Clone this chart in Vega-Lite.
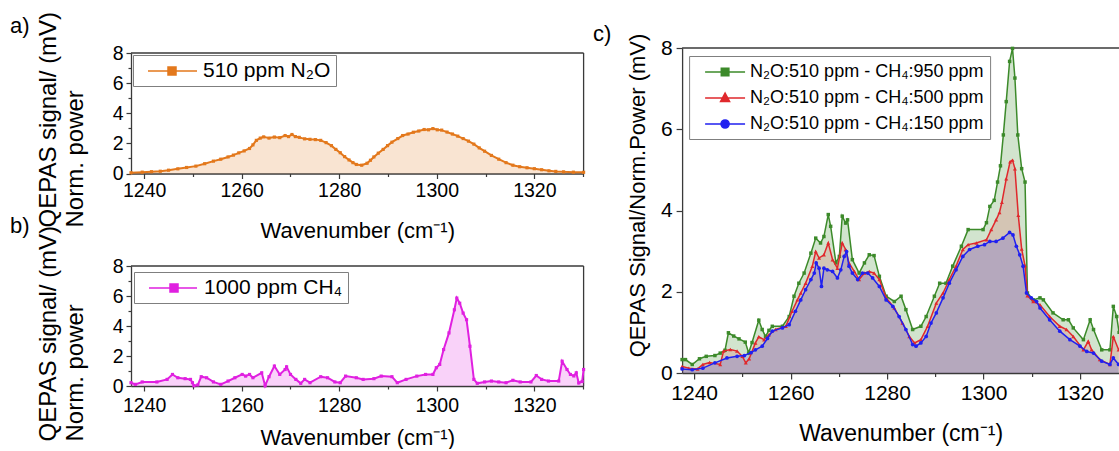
{
 "$schema": "https://vega.github.io/schema/vega-lite/v6.json",
 "background": "white",
 "padding": {"left": 10, "top": 11, "right": 0, "bottom": 0},
 "config": {
  "font": "Liberation Sans",
  "view": {"stroke": "#3a3a3a", "strokeWidth": 1.3},
  "axis": {"grid": false, "domainColor": "#3a3a3a", "domainWidth": 1.3, "tickColor": "#3a3a3a", "tickWidth": 1.2, "tickSize": 5, "labelColor": "black", "titleColor": "black", "labelFont": "Liberation Sans", "titleFont": "Liberation Sans", "titleFontWeight": "normal", "labelFontSize": 19.5, "titleFontSize": 22, "labelPadding": 3, "labelOverlap": false, "labelFlush": false},
  "title": {"font": "Liberation Sans", "fontSize": 22, "fontWeight": "normal", "color": "black", "anchor": "start", "frame": "group", "subtitleFont": "Liberation Sans", "subtitleFontSize": 22, "subtitleColor": "black", "subtitleFontWeight": "normal"}
 },
 "datasets": {
  "a": [
   {"w":1237.3,"s":0.05},{"w":1239.6,"s":0.09},{"w":1241.5,"s":0.12},{"w":1243.3,"s":0.15},{"w":1245,"s":0.22},{"w":1246.9,"s":0.31},{"w":1248.7,"s":0.4},{"w":1250.6,"s":0.49},{"w":1252.4,"s":0.65},{"w":1254.2,"s":0.82},{"w":1255.7,"s":0.95},{"w":1257.2,"s":1.1},{"w":1258.3,"s":1.22},{"w":1259.4,"s":1.37},{"w":1260.5,"s":1.5},{"w":1261.6,"s":1.66},{"w":1262.3,"s":1.9},{"w":1263,"s":2.2},{"w":1263.8,"s":2.35},{"w":1264.5,"s":2.43},{"w":1265.6,"s":2.35},{"w":1266.7,"s":2.42},{"w":1267.8,"s":2.38},{"w":1268.9,"s":2.52},{"w":1269.6,"s":2.45},{"w":1270.3,"s":2.59},{"w":1271,"s":2.45},{"w":1271.8,"s":2.4},{"w":1272.9,"s":2.3},{"w":1274,"s":2.27},{"w":1275.1,"s":2.25},{"w":1276.2,"s":2.2},{"w":1277.3,"s":2.05},{"w":1278.4,"s":1.85},{"w":1279.3,"s":1.6},{"w":1280.2,"s":1.38},{"w":1281.1,"s":1.12},{"w":1282,"s":0.9},{"w":1282.8,"s":0.72},{"w":1283.5,"s":0.6},{"w":1284.6,"s":0.55},{"w":1285.7,"s":0.68},{"w":1286.4,"s":0.88},{"w":1287.1,"s":1.1},{"w":1288,"s":1.35},{"w":1289,"s":1.6},{"w":1289.9,"s":1.85},{"w":1290.8,"s":2.08},{"w":1292,"s":2.32},{"w":1293,"s":2.52},{"w":1294.1,"s":2.62},{"w":1295.2,"s":2.74},{"w":1296.3,"s":2.82},{"w":1297.4,"s":2.92},{"w":1298.3,"s":2.9},{"w":1299.2,"s":2.98},{"w":1300.1,"s":2.9},{"w":1301,"s":2.88},{"w":1302.1,"s":2.75},{"w":1303.2,"s":2.62},{"w":1304.3,"s":2.48},{"w":1305.4,"s":2.32},{"w":1306.5,"s":2.15},{"w":1307.6,"s":1.95},{"w":1308.7,"s":1.7},{"w":1309.8,"s":1.48},{"w":1311.2,"s":1.2},{"w":1312.7,"s":0.95},{"w":1314.2,"s":0.72},{"w":1315.6,"s":0.55},{"w":1317,"s":0.45},{"w":1318.5,"s":0.38},{"w":1320,"s":0.32},{"w":1321.5,"s":0.25},{"w":1323,"s":0.18},{"w":1324.4,"s":0.14},{"w":1326,"s":0.11},{"w":1328,"s":0.09},{"w":1330.1,"s":0.08}
  ],
  "b": [
   {"w":1237.3,"s":0.22},{"w":1238.2,"s":0.11},{"w":1239.6,"s":0.27},{"w":1242.6,"s":0.27},{"w":1244.7,"s":0.44},{"w":1245.8,"s":0.77},{"w":1246.9,"s":0.55},{"w":1248.4,"s":0.49},{"w":1249.5,"s":0.44},{"w":1249.9,"s":0.22},{"w":1250.2,"s":0.02},{"w":1251,"s":0.07},{"w":1251.7,"s":0.62},{"w":1252.8,"s":0.55},{"w":1254.2,"s":0.27},{"w":1255.7,"s":0.11},{"w":1257.2,"s":0.33},{"w":1258.6,"s":0.55},{"w":1260.1,"s":0.77},{"w":1260.8,"s":0.66},{"w":1261.6,"s":0.77},{"w":1262.3,"s":0.55},{"w":1264.1,"s":0.88},{"w":1264.8,"s":0.02},{"w":1265.6,"s":0.62},{"w":1266.7,"s":1.33},{"w":1267.8,"s":0.77},{"w":1268.9,"s":1.1},{"w":1269.2,"s":1.28},{"w":1270,"s":0.77},{"w":1271.1,"s":0.44},{"w":1272.1,"s":0.18},{"w":1272.9,"s":0.44},{"w":1274,"s":0.22},{"w":1276.2,"s":0.62},{"w":1277.6,"s":0.55},{"w":1279.1,"s":0.27},{"w":1280.2,"s":0.22},{"w":1281.3,"s":0.66},{"w":1283.5,"s":0.55},{"w":1284.9,"s":0.44},{"w":1287.1,"s":0.49},{"w":1288.6,"s":0.66},{"w":1290.8,"s":0.62},{"w":1291.9,"s":0.22},{"w":1293.7,"s":0.44},{"w":1295.9,"s":0.66},{"w":1297.7,"s":0.77},{"w":1299.2,"s":0.77},{"w":1299.9,"s":1.22},{"w":1300.6,"s":1.44},{"w":1301.4,"s":2.43},{"w":1302.5,"s":3.54},{"w":1303.6,"s":5.08},{"w":1304.1,"s":5.86},{"w":1304.7,"s":5.52},{"w":1305.4,"s":4.86},{"w":1306.1,"s":4.42},{"w":1306.8,"s":2.65},{"w":1307.6,"s":0.44},{"w":1308.3,"s":0.18},{"w":1309.8,"s":0.27},{"w":1311.2,"s":0.33},{"w":1312.7,"s":0.27},{"w":1314.2,"s":0.22},{"w":1315.6,"s":0.38},{"w":1317.1,"s":0.27},{"w":1319.3,"s":0.27},{"w":1320.4,"s":0.7},{"w":1321.5,"s":0.44},{"w":1322.9,"s":0.33},{"w":1325,"s":0.33},{"w":1325.7,"s":1.65},{"w":1326.7,"s":1.1},{"w":1327.4,"s":0.77},{"w":1328.1,"s":0.67},{"w":1328.6,"s":0.88},{"w":1329.1,"s":0.2},{"w":1329.8,"s":0.3},{"w":1330.1,"s":1.1}
  ],
  "g": [
   {"w":1237.5,"s":0.33},{"w":1238.2,"s":0.33},{"w":1239.6,"s":0.21},{"w":1241.1,"s":0.35},{"w":1242.5,"s":0.41},{"w":1244.3,"s":0.43},{"w":1245.4,"s":0.49},{"w":1246.4,"s":0.56},{"w":1247.1,"s":0.99},{"w":1248.2,"s":0.91},{"w":1249.3,"s":0.84},{"w":1250.6,"s":0.76},{"w":1251.3,"s":0.49},{"w":1252,"s":0.75},{"w":1253.4,"s":1.3},{"w":1254.1,"s":1.07},{"w":1254.8,"s":0.9},{"w":1255.5,"s":1.05},{"w":1256.2,"s":1.15},{"w":1258.3,"s":1.15},{"w":1259.7,"s":1.39},{"w":1260.7,"s":1.89},{"w":1261.7,"s":2.21},{"w":1262.8,"s":2.46},{"w":1264.2,"s":2.95},{"w":1265.2,"s":3.32},{"w":1266.2,"s":3.2},{"w":1266.9,"s":3.36},{"w":1267.8,"s":3.9},{"w":1268.3,"s":3.61},{"w":1269.4,"s":2.71},{"w":1270.1,"s":2.87},{"w":1270.7,"s":3.86},{"w":1271.4,"s":3.69},{"w":1271.8,"s":3.77},{"w":1272.8,"s":2.79},{"w":1274.2,"s":2.46},{"w":1275.3,"s":2.71},{"w":1276.3,"s":2.91},{"w":1277.3,"s":2.89},{"w":1278.4,"s":2.38},{"w":1279.8,"s":1.89},{"w":1281.5,"s":1.76},{"w":1282.9,"s":1.89},{"w":1283.9,"s":1.56},{"w":1285.3,"s":1.07},{"w":1287,"s":1.15},{"w":1288.1,"s":1.39},{"w":1289.8,"s":1.89},{"w":1290.9,"s":2.21},{"w":1292.2,"s":2.21},{"w":1293.6,"s":2.63},{"w":1295.4,"s":3.12},{"w":1296.8,"s":3.53},{"w":1299.9,"s":3.53},{"w":1300.6,"s":3.7},{"w":1301.3,"s":4.1},{"w":1302.2,"s":4.25},{"w":1302.9,"s":4.7},{"w":1303.5,"s":5.1},{"w":1304.1,"s":5.86},{"w":1304.7,"s":6.68},{"w":1305.4,"s":7.67},{"w":1306,"s":7.99},{"w":1306.5,"s":7.26},{"w":1307.1,"s":5.86},{"w":1307.9,"s":5.03},{"w":1308.6,"s":4.7},{"w":1309.1,"s":1.97},{"w":1310.3,"s":1.8},{"w":1311.7,"s":1.85},{"w":1312.4,"s":1.8},{"w":1314.4,"s":1.48},{"w":1316.5,"s":1.31},{"w":1317.6,"s":1.31},{"w":1318.6,"s":1.11},{"w":1320.7,"s":0.82},{"w":1322.1,"s":1.31},{"w":1322.8,"s":1.07},{"w":1324.5,"s":0.57},{"w":1326.2,"s":0.57},{"w":1326.9,"s":1.64},{"w":1327.6,"s":1.39},{"w":1328.1,"s":1.0}
  ],
  "r": [
   {"w":1237.5,"s":0.16},{"w":1238.9,"s":0.12},{"w":1240.7,"s":0.1},{"w":1241.8,"s":0.21},{"w":1243.2,"s":0.26},{"w":1245.4,"s":0.21},{"w":1246.1,"s":0.54},{"w":1247.5,"s":0.58},{"w":1248.9,"s":0.54},{"w":1250,"s":0.41},{"w":1250.7,"s":0.25},{"w":1251.4,"s":0.35},{"w":1252.7,"s":0.74},{"w":1253.4,"s":0.89},{"w":1254.5,"s":0.82},{"w":1255.5,"s":0.94},{"w":1256.9,"s":1.07},{"w":1259,"s":1.15},{"w":1260.3,"s":1.52},{"w":1261.4,"s":1.8},{"w":1262.1,"s":1.97},{"w":1263.1,"s":2.21},{"w":1264.5,"s":2.63},{"w":1265.2,"s":2.99},{"w":1265.9,"s":2.83},{"w":1266.9,"s":2.91},{"w":1267.8,"s":3.2},{"w":1268.7,"s":2.79},{"w":1269.7,"s":2.58},{"w":1270.7,"s":3.2},{"w":1271.4,"s":3.04},{"w":1272.1,"s":2.71},{"w":1273.2,"s":2.5},{"w":1274.2,"s":2.3},{"w":1275.3,"s":2.46},{"w":1276.3,"s":2.5},{"w":1277.3,"s":2.46},{"w":1278.4,"s":2.3},{"w":1279.8,"s":1.85},{"w":1281.5,"s":1.6},{"w":1283.2,"s":1.23},{"w":1284.6,"s":0.9},{"w":1285.7,"s":0.74},{"w":1287,"s":0.82},{"w":1288.4,"s":1.15},{"w":1290.2,"s":1.72},{"w":1291.6,"s":1.97},{"w":1292.9,"s":2.3},{"w":1294.3,"s":2.63},{"w":1295.7,"s":3.04},{"w":1296.8,"s":3.16},{"w":1298.5,"s":3.2},{"w":1300.6,"s":3.28},{"w":1301.6,"s":3.53},{"w":1302.6,"s":3.77},{"w":1303.3,"s":3.95},{"w":1303.8,"s":4.2},{"w":1304.7,"s":4.78},{"w":1305.5,"s":5.2},{"w":1306,"s":5.24},{"w":1306.5,"s":5.03},{"w":1307.2,"s":3.88},{"w":1307.9,"s":3.05},{"w":1308.6,"s":2.64},{"w":1309.1,"s":1.9},{"w":1310.3,"s":1.76},{"w":1311.7,"s":1.68},{"w":1313.7,"s":1.39},{"w":1315.8,"s":1.15},{"w":1317.2,"s":1.07},{"w":1318.6,"s":0.9},{"w":1320.7,"s":0.57},{"w":1321.7,"s":0.78},{"w":1322.4,"s":0.57},{"w":1324.1,"s":0.33},{"w":1326.2,"s":0.21},{"w":1326.9,"s":0.9},{"w":1328,"s":0.57}
  ],
  "bl": [
   {"w":1237.5,"s":0.1},{"w":1239.6,"s":0.08},{"w":1241.8,"s":0.12},{"w":1244.3,"s":0.25},{"w":1246.8,"s":0.37},{"w":1248.9,"s":0.41},{"w":1250.4,"s":0.43},{"w":1251.8,"s":0.5},{"w":1252.7,"s":0.57},{"w":1254.1,"s":0.66},{"w":1255.2,"s":0.85},{"w":1256.2,"s":1.03},{"w":1258.3,"s":1.11},{"w":1259.7,"s":1.19},{"w":1261,"s":1.52},{"w":1262.1,"s":1.8},{"w":1263.1,"s":2.05},{"w":1264.2,"s":2.3},{"w":1264.9,"s":2.46},{"w":1265.3,"s":2.71},{"w":1265.9,"s":2.58},{"w":1266.4,"s":2.13},{"w":1266.9,"s":2.58},{"w":1267.6,"s":2.54},{"w":1268.7,"s":2.5},{"w":1269.7,"s":2.34},{"w":1270.4,"s":2.54},{"w":1271.1,"s":2.87},{"w":1271.6,"s":2.99},{"w":1272.1,"s":2.63},{"w":1272.8,"s":2.46},{"w":1273.9,"s":2.3},{"w":1274.9,"s":2.46},{"w":1276,"s":2.46},{"w":1277,"s":2.34},{"w":1278.4,"s":2.13},{"w":1279.8,"s":1.8},{"w":1281.2,"s":1.64},{"w":1282.5,"s":1.39},{"w":1283.9,"s":1.07},{"w":1285.3,"s":0.7},{"w":1286,"s":0.66},{"w":1287,"s":0.74},{"w":1288.1,"s":0.9},{"w":1289.1,"s":1.23},{"w":1290.2,"s":1.48},{"w":1291.6,"s":1.85},{"w":1292.9,"s":2.21},{"w":1294.3,"s":2.54},{"w":1295.7,"s":2.87},{"w":1297.1,"s":3.04},{"w":1298.8,"s":3.12},{"w":1300.2,"s":3.16},{"w":1301.3,"s":3.24},{"w":1302.6,"s":3.24},{"w":1304,"s":3.32},{"w":1305.4,"s":3.46},{"w":1306.1,"s":3.4},{"w":1306.8,"s":3.12},{"w":1307.5,"s":2.91},{"w":1308.2,"s":2.63},{"w":1308.9,"s":1.97},{"w":1309.9,"s":1.85},{"w":1311,"s":1.76},{"w":1311.7,"s":1.6},{"w":1313.7,"s":1.31},{"w":1315.8,"s":1.03},{"w":1317.9,"s":0.82},{"w":1320,"s":0.66},{"w":1321.4,"s":0.53},{"w":1322.8,"s":0.49},{"w":1324.5,"s":0.29},{"w":1326.2,"s":0.21},{"w":1326.9,"s":0.37},{"w":1328,"s":0.21}
  ]
 },
 "hconcat": [
  {
   "width": 452.6, "height": 333,
   "view": {"stroke": null},
   "title": {"text": "a)", "subtitle": "b)", "subtitlePadding": 178, "dx": -121, "dy": 231},
   "layer": [
    {
     "layer": [
      {"data": {"values": [{}]}, "mark": {"type": "rule", "color": "#3a3a3a", "strokeWidth": 1.3},
       "encoding": {"y": {"datum": 8, "type": "quantitative", "scale": {"domain": [0, 8], "range": [120.5, 0], "nice": false}}}},
      {"data": {"values": [{}]}, "mark": {"type": "rule", "color": "#3a3a3a", "strokeWidth": 1.3},
       "encoding": {"x": {"datum": 1330.1, "type": "quantitative", "scale": {"domain": [1237.3, 1330.1], "nice": false, "zero": false}}, "y": {"datum": 0, "type": "quantitative"}, "y2": {"datum": 8}}},
      {"data": {"name": "a"}, "mark": {"type": "area", "color": "#E3781C", "opacity": 0.2},
       "encoding": {
        "x": {"field": "w", "type": "quantitative",
              "axis": {"orient": "bottom", "offset": -212.5, "values": [1240,1250,1260,1270,1280,1290,1300,1310,1320,1330], "format": "d", "labelExpr": "datum.value % 20 == 0 ? datum.label : ''", "tickSize": {"condition": {"test": "datum.value % 20 == 0", "value": 5}, "value": 3}, "title": "Wavenumber (cm⁻¹)", "titlePadding": 20}},
        "y": {"field": "s", "type": "quantitative",
              "axis": {"orient": "left", "values": [0,1,2,3,4,5,6,7,8], "labelExpr": "datum.value % 2 == 0 ? datum.label : ''", "tickSize": {"condition": {"test": "datum.value % 2 == 0", "value": 5}, "value": 3}, "title": ["QEPAS signal/ (mV)", "Norm. power"], "titleFontSize": 24, "titleX": -95, "titleY": 174, "titleAlign": "left", "titleAngle": -90, "titleBaseline": "top", "titleLineHeight": 27}}
       }},
      {"data": {"name": "a"}, "mark": {"type": "line", "color": "#E3781C", "strokeWidth": 2, "point": {"shape": "square", "size": 10, "filled": true, "color": "#E3781C"}},
       "encoding": {"x": {"field": "w", "type": "quantitative"}, "y": {"field": "s", "type": "quantitative"}}},
      {"data": {"values": [{"k": "510 ppm N₂O"}]}, "mark": {"type": "point", "filled": true, "opacity": 0},
       "encoding": {
        "fill": {"field": "k", "type": "nominal", "scale": {"range": ["#E3781C"]}, "legend": {"title": null, "orient": "none", "legendX": 2, "legendY": 2, "padding": 5, "strokeColor": "#7f7f7f", "fillColor": "white", "symbolSize": 400, "symbolStrokeWidth": 1.5, "symbolOpacity": 1, "labelFontSize": 21, "labelFont": "Liberation Sans", "labelColor": "black", "labelOffset": 43, "labelLimit": 400}},
        "stroke": {"field": "k", "type": "nominal", "scale": {"range": ["#E3781C"]}, "legend": {"title": null, "orient": "none", "legendX": 2, "legendY": 2, "padding": 5, "strokeColor": "#7f7f7f", "fillColor": "white", "symbolSize": 400, "symbolStrokeWidth": 1.5, "symbolOpacity": 1, "labelFontSize": 21, "labelFont": "Liberation Sans", "labelColor": "black", "labelOffset": 43, "labelLimit": 400}},
        "shape": {"field": "k", "type": "nominal", "scale": {"range": ["M-0.1,0H4.8M1.9,-0.4H2.7V0.4H1.9Z"]}, "legend": {"title": null, "orient": "none", "legendX": 2, "legendY": 2, "padding": 5, "strokeColor": "#7f7f7f", "fillColor": "white", "symbolSize": 400, "symbolStrokeWidth": 1.5, "symbolOpacity": 1, "labelFontSize": 21, "labelFont": "Liberation Sans", "labelColor": "black", "labelOffset": 43, "labelLimit": 400}}
       }}
     ]
    },
    {
     "layer": [
      {"data": {"values": [{}]}, "mark": {"type": "rule", "color": "#3a3a3a", "strokeWidth": 1.3},
       "encoding": {"y": {"datum": 8, "type": "quantitative", "scale": {"domain": [0, 8], "range": [333, 213], "nice": false}}}},
      {"data": {"values": [{}]}, "mark": {"type": "rule", "color": "#3a3a3a", "strokeWidth": 1.3},
       "encoding": {"x": {"datum": 1330.1, "type": "quantitative", "scale": {"domain": [1237.3, 1330.1], "nice": false, "zero": false}}, "y": {"datum": 0, "type": "quantitative"}, "y2": {"datum": 8}}},
      {"data": {"name": "b"}, "mark": {"type": "area", "color": "#E020E0", "opacity": 0.2},
       "encoding": {
        "x": {"field": "w", "type": "quantitative",
              "axis": {"orient": "bottom", "values": [1240,1250,1260,1270,1280,1290,1300,1310,1320,1330], "format": "d", "labelExpr": "datum.value % 20 == 0 ? datum.label : ''", "tickSize": {"condition": {"test": "datum.value % 20 == 0", "value": 5}, "value": 3}, "title": "Wavenumber (cm⁻¹)", "labelPadding": 5, "titlePadding": 13}},
        "y": {"field": "s", "type": "quantitative",
              "axis": {"orient": "left", "values": [0,1,2,3,4,5,6,7,8], "labelExpr": "datum.value % 2 == 0 ? datum.label : ''", "tickSize": {"condition": {"test": "datum.value % 2 == 0", "value": 5}, "value": 3}, "title": ["QEPAS signal/ (mV)", "Norm. power"], "titleFontSize": 24, "titleX": -95, "titleY": 388, "titleAlign": "left", "titleAngle": -90, "titleBaseline": "top", "titleLineHeight": 27}}
       }},
      {"data": {"name": "b"}, "mark": {"type": "line", "color": "#E020E0", "strokeWidth": 2, "point": {"shape": "square", "size": 10, "filled": true, "color": "#E020E0"}},
       "encoding": {"x": {"field": "w", "type": "quantitative"}, "y": {"field": "s", "type": "quantitative"}}},
      {"data": {"values": [{"k": "1000 ppm CH₄"}]}, "mark": {"type": "point", "filled": true, "opacity": 0},
       "encoding": {
        "fill": {"field": "k", "type": "nominal", "scale": {"range": ["#E020E0"]}, "legend": {"title": null, "orient": "none", "legendX": 3, "legendY": 219, "padding": 5, "strokeColor": "#7f7f7f", "fillColor": "white", "symbolSize": 400, "symbolStrokeWidth": 1.5, "symbolOpacity": 1, "labelFontSize": 21, "labelFont": "Liberation Sans", "labelColor": "black", "labelOffset": 43, "labelLimit": 400}},
        "stroke": {"field": "k", "type": "nominal", "scale": {"range": ["#E020E0"]}, "legend": {"title": null, "orient": "none", "legendX": 3, "legendY": 219, "padding": 5, "strokeColor": "#7f7f7f", "fillColor": "white", "symbolSize": 400, "symbolStrokeWidth": 1.5, "symbolOpacity": 1, "labelFontSize": 21, "labelFont": "Liberation Sans", "labelColor": "black", "labelOffset": 43, "labelLimit": 400}},
        "shape": {"field": "k", "type": "nominal", "scale": {"range": ["M-0.1,0H4.7M2,-0.4H2.8V0.4H2Z"]}, "legend": {"title": null, "orient": "none", "legendX": 3, "legendY": 219, "padding": 5, "strokeColor": "#7f7f7f", "fillColor": "white", "symbolSize": 400, "symbolStrokeWidth": 1.5, "symbolOpacity": 1, "labelFontSize": 21, "labelFont": "Liberation Sans", "labelColor": "black", "labelOffset": 43, "labelLimit": 400}}
       }}
     ]
    }
   ],
   "resolve": {"scale": {"x": "independent", "y": "independent", "fill": "independent", "stroke": "independent", "shape": "independent"}, "axis": {"x": "independent", "y": "independent"}}
  },
  {
   "width": 437, "height": 320,
   "view": {"stroke": null},
   "title": {"text": "c)", "dx": -89, "dy": 16.5},
   "layer": [
    {"data": {"values": [{}]}, "mark": {"type": "rule", "color": "#3a3a3a", "strokeWidth": 1.3}, "encoding": {"y": {"datum": 8, "type": "quantitative", "scale": {"domain": [0, 8], "range": [320, -5], "nice": false}}}},
    {"data": {"name": "g"}, "mark": {"type": "area", "color": "#3C8A2A", "opacity": 0.23},
     "encoding": {
      "x": {"field": "w", "type": "quantitative", "scale": {"domain": [1237.5, 1328.1], "nice": false, "zero": false},
            "axis": {"values": [1240,1250,1260,1270,1280,1290,1300,1310,1320], "format": "d", "labelExpr": "datum.value % 20 == 0 ? datum.label : ''", "tickSize": {"condition": {"test": "datum.value % 20 == 0", "value": 6}, "value": 3.5}, "title": "Wavenumber (cm⁻¹)", "labelFontSize": 21, "labelPadding": 3.5, "titleFontSize": 23, "titlePadding": 19}},
      "y": {"field": "s", "type": "quantitative",
            "axis": {"values": [0,1,2,3,4,5,6,7,8], "labelExpr": "datum.value % 2 == 0 ? datum.label : ''", "tickSize": {"condition": {"test": "datum.value % 2 == 0", "value": 6}, "value": 3.5}, "title": "QEPAS Signal/Norm.Power (mV)", "labelFontSize": 21, "labelPadding": 4, "titleFontSize": 22, "titlePadding": 11, "titleY": 142}}
     }},
    {"data": {"name": "r"}, "mark": {"type": "area", "color": "#E0282C", "opacity": 0.16},
     "encoding": {"x": {"field": "w", "type": "quantitative"}, "y": {"field": "s", "type": "quantitative"}}},
    {"data": {"name": "bl"}, "mark": {"type": "area", "color": "#2020F0", "opacity": 0.17},
     "encoding": {"x": {"field": "w", "type": "quantitative"}, "y": {"field": "s", "type": "quantitative"}}},
    {"data": {"name": "g"}, "mark": {"type": "line", "color": "#3C8A2A", "strokeWidth": 1.5, "point": {"shape": "square", "size": 12, "filled": true, "color": "#3C8A2A"}},
     "encoding": {"x": {"field": "w", "type": "quantitative"}, "y": {"field": "s", "type": "quantitative"}}},
    {"data": {"name": "r"}, "mark": {"type": "line", "color": "#E0282C", "strokeWidth": 1.5, "point": {"shape": "triangle-up", "size": 16, "filled": true, "color": "#E0282C"}},
     "encoding": {"x": {"field": "w", "type": "quantitative"}, "y": {"field": "s", "type": "quantitative"}}},
    {"data": {"name": "bl"}, "mark": {"type": "line", "color": "#2020F0", "strokeWidth": 1.5, "point": {"shape": "circle", "size": 14, "filled": true, "color": "#2020F0"}},
     "encoding": {"x": {"field": "w", "type": "quantitative"}, "y": {"field": "s", "type": "quantitative"}}},
    {"data": {"values": [{"k": "N₂O:510 ppm - CH₄:950 ppm"}, {"k": "N₂O:510 ppm - CH₄:500 ppm"}, {"k": "N₂O:510 ppm - CH₄:150 ppm"}]}, "mark": {"type": "point", "filled": true, "opacity": 0},
     "encoding": {
      "fill": {"field": "k", "type": "nominal", "scale": {"domain": ["N₂O:510 ppm - CH₄:950 ppm", "N₂O:510 ppm - CH₄:500 ppm", "N₂O:510 ppm - CH₄:150 ppm"], "range": ["#3C8A2A", "#E0282C", "#2020F0"]}, "legend": {"title": null, "orient": "none", "legendX": 7, "legendY": 3, "padding": 6, "strokeColor": "#7f7f7f", "fillColor": "white", "symbolSize": 324, "symbolStrokeWidth": 1.5, "symbolOpacity": 1, "labelFontSize": 18, "labelFont": "Liberation Sans", "labelColor": "black", "labelOffset": 35, "labelLimit": 400, "rowPadding": 7}},
      "stroke": {"field": "k", "type": "nominal", "scale": {"domain": ["N₂O:510 ppm - CH₄:950 ppm", "N₂O:510 ppm - CH₄:500 ppm", "N₂O:510 ppm - CH₄:150 ppm"], "range": ["#3C8A2A", "#E0282C", "#2020F0"]}, "legend": {"title": null, "orient": "none", "legendX": 7, "legendY": 3, "padding": 6, "strokeColor": "#7f7f7f", "fillColor": "white", "symbolSize": 324, "symbolStrokeWidth": 1.5, "symbolOpacity": 1, "labelFontSize": 18, "labelFont": "Liberation Sans", "labelColor": "black", "labelOffset": 35, "labelLimit": 400, "rowPadding": 7}},
      "shape": {"field": "k", "type": "nominal", "scale": {"domain": ["N₂O:510 ppm - CH₄:950 ppm", "N₂O:510 ppm - CH₄:500 ppm", "N₂O:510 ppm - CH₄:150 ppm"], "range": ["M0,0H4.44M1.8,-0.42H2.64V0.42H1.8Z", "M0,0H4.44M2.22,-0.55L2.72,0.4H1.72Z", "M0,0H4.44M1.77,0A0.45,0.45 0 1,0 2.67,0A0.45,0.45 0 1,0 1.77,0Z"]}, "legend": {"title": null, "orient": "none", "legendX": 7, "legendY": 3, "padding": 6, "strokeColor": "#7f7f7f", "fillColor": "white", "symbolSize": 324, "symbolStrokeWidth": 1.5, "symbolOpacity": 1, "labelFontSize": 18, "labelFont": "Liberation Sans", "labelColor": "black", "labelOffset": 35, "labelLimit": 400, "rowPadding": 7}}
     }}
   ]
  }
 ],
 "spacing": 98.1,
 "bounds": "flush",
 "resolve": {"scale": {"fill": "independent", "stroke": "independent", "shape": "independent"}}
}
